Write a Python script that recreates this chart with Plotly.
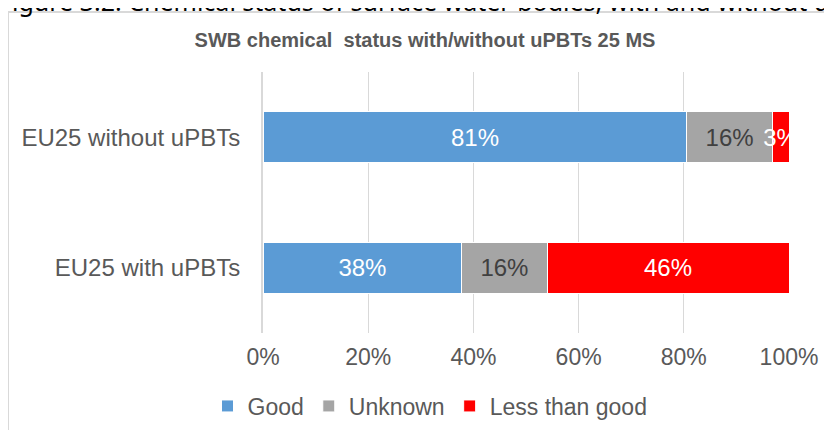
import plotly.graph_objects as go

categories = ["EU25 with uPBTs", "EU25 without uPBTs"]
series_names = ["Good", "Unknown", "Less than good"]
good = [37.8, 80.6]
unknown = [16.2, 16.2]
less_than_good = [46.0, 3.2]
tick_vals = [0, 20, 40, 60, 80, 100]
tick_text = ["0%", "20%", "40%", "60%", "80%", "100%"]

colors = ["#5b9bd5", "#a5a5a5", "#ff0000"]
text_colors = ["#ffffff", "#404040", "#ffffff"]

# the page has an 8px body margin, so figure pixels = screen pixels - 8
OFF = 8
W, H = 832 - OFF, 445 - OFF
L, R = 263 - OFF, 789 - OFF
T, B = 72 - OFF, 333 - OFF
FONT = "Liberation Sans, Arial, sans-serif"

def px(xs):
    return (xs - OFF - L) / (R - L)

def py(ys):
    return (B - (ys - OFF)) / (B - T)

fig = go.Figure()
for name, vals, c, tc in zip(series_names, [good, unknown, less_than_good], colors, text_colors):
    fig.add_trace(go.Bar(
        y=categories, x=vals, name=name, orientation="h",
        marker=dict(color=c, line=dict(color="#ffffff", width=1)),
        texttemplate="%{x:.0f}%", textposition="inside", insidetextanchor="middle",
        textangle=0, constraintext="none", cliponaxis=True,
        textfont=dict(color=tc, size=24, family=FONT),
        hoverinfo="skip",
    ))

fig.update_layout(
    width=W, height=H,
    barmode="stack", bargap=0.61,
    margin=dict(l=L, r=W - R, t=T, b=H - B, pad=0, autoexpand=False),
    paper_bgcolor="white", plot_bgcolor="white",
    font=dict(family=FONT, color="#595959", size=23),
    title=dict(
        text="<b>SWB chemical  status with/without uPBTs 25 MS</b>",
        x=(425 - OFF) / W, xanchor="center", y=1 - (40 - OFF) / H, yanchor="middle",
        font=dict(family=FONT, size=20, color="#595959"),
    ),
    xaxis=dict(
        range=[0, 100], tickvals=tick_vals, ticktext=tick_text,
        showgrid=True, gridcolor="#d9d9d9", gridwidth=1,
        zeroline=False, showline=False, ticks="", ticklabelstandoff=8,
        tickfont=dict(size=23, color="#595959"),
    ),
    yaxis=dict(
        showline=True, linecolor="#d9d9d9", linewidth=2,
        ticks="", ticklabelstandoff=16,
        tickfont=dict(size=24, color="#595959"),
    ),
    legend=dict(
        orientation="h", x=px(430), xanchor="center", y=py(406), yanchor="middle",
        font=dict(size=23, color="#595959"), traceorder="normal",
        itemwidth=30,
    ),
    shapes=[dict(
        type="rect", xref="paper", yref="paper",
        x0=px(8), x1=px(900), y0=py(12), y1=py(520),
        line=dict(color="#d9d9d9", width=2), fillcolor="rgba(0,0,0,0)", layer="below",
    )],
    annotations=[dict(
        text="Figure 3.2: Chemical status of surface water bodies, with and without uPBTs",
        xref="paper", yref="paper", x=px(-3), xanchor="left",
        y=py(20), yanchor="bottom", showarrow=False,
        font=dict(family="Noto Sans, Liberation Sans, sans-serif", size=25, color="#000000"),
    )],
)

fig.write_html("out.html")
